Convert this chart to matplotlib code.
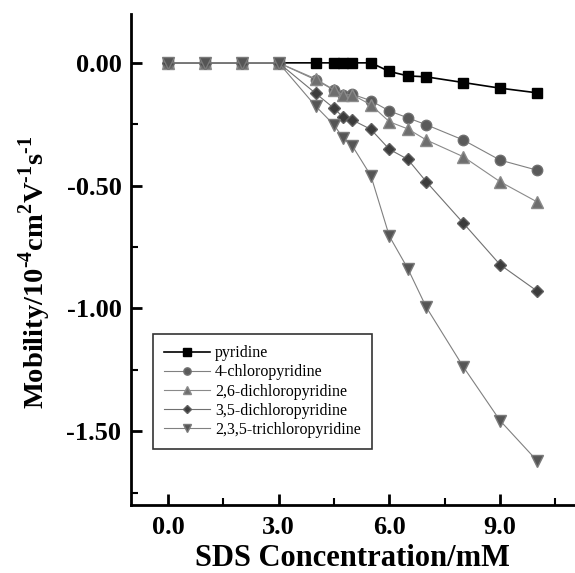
import matplotlib.pyplot as plt
from matplotlib.ticker import MultipleLocator, FormatStrFormatter

plt.rcParams['font.family'] = ['Liberation Serif', 'DejaVu Serif']
plt.rcParams['mathtext.fontset'] = 'custom'
plt.rcParams['mathtext.rm'] = 'Liberation Serif:bold'
plt.rcParams['mathtext.bf'] = 'Liberation Serif:bold'

# SDS concentration (mM)
sds = [0, 1, 2, 3, 4, 4.5, 4.75, 5, 5.5, 6, 6.5, 7, 8, 9, 10]

# mobility, 10^-4 cm^2 V^-1 s^-1
pyridine = [0, 0, 0, 0, 0, 0, 0, 0, 0, -0.035, -0.053, -0.057, -0.080, -0.103, -0.122]
chloro4 = [0, 0, 0, 0, -0.069, -0.111, -0.131, -0.128, -0.154, -0.196, -0.224, -0.252, -0.314, -0.396, -0.437]
dichloro26 = [0, 0, 0, 0, -0.065, -0.110, -0.130, -0.130, -0.171, -0.240, -0.269, -0.314, -0.382, -0.484, -0.566]
dichloro35 = [0, 0, 0, 0, -0.124, -0.185, -0.222, -0.233, -0.271, -0.352, -0.393, -0.484, -0.652, -0.822, -0.929]
trichloro235 = [0, 0, 0, 0, -0.176, -0.253, -0.307, -0.339, -0.460, -0.706, -0.838, -0.995, -1.237, -1.457, -1.620]

names = ['pyridine', '4-chloropyridine', '2,6-dichloropyridine',
         '3,5-dichloropyridine', '2,3,5-trichloropyridine']

fig = plt.figure(figsize=(5.75, 5.73), dpi=100)
ax = fig.add_axes([0.228, 0.119, 0.77, 0.857])

ax.plot(sds, pyridine, color='black', lw=1.2, marker='s', ms=7.5,
        mfc='black', mec='black', label=names[0])
ax.plot(sds, chloro4, color='#808080', lw=0.8, marker='o', ms=7.5,
        mfc='#5a5a5a', mec='#707070', label=names[1])
ax.plot(sds, dichloro26, color='#8a8a8a', lw=0.8, marker='^', ms=8,
        mfc='#6e6e6e', mec='#8a8a8a', label=names[2])
ax.plot(sds, dichloro35, color='#707070', lw=0.8, marker='D', ms=6.5,
        mfc='#3c3c3c', mec='#606060', label=names[3])
ax.plot(sds, trichloro235, color='#808080', lw=0.8, marker='v', ms=8,
        mfc='#555555', mec='#7a7a7a', label=names[4])

ax.set_xlim(-1.0, 11.0)
ax.set_ylim(-1.8, 0.2)
ax.xaxis.set_major_locator(MultipleLocator(3.0))
ax.xaxis.set_minor_locator(MultipleLocator(1.5))
ax.yaxis.set_major_locator(MultipleLocator(0.5))
ax.yaxis.set_minor_locator(MultipleLocator(0.25))
ax.xaxis.set_major_formatter(FormatStrFormatter('%.1f'))
ax.yaxis.set_major_formatter(FormatStrFormatter('%.2f'))

for s in ['top', 'right']:
    ax.spines[s].set_visible(False)
for s in ['left', 'bottom']:
    ax.spines[s].set_linewidth(2)

ax.tick_params(which='major', direction='in', length=8, width=2,
               labelsize=19)
ax.tick_params(axis='y', which='major', pad=7)
ax.tick_params(axis='x', which='major', pad=8)
ax.tick_params(which='minor', direction='in', length=5, width=1.5)
for lab in ax.get_xticklabels() + ax.get_yticklabels():
    lab.set_fontweight('bold')

ax.set_xlabel('SDS Concentration/mM', fontsize=22, fontweight='bold')
ax.set_ylabel(r'Mobility/10$^{\text{-}4}$cm$^{2}$V$^{\text{-}1}$s$^{\text{-}1}$',
              fontsize=20.5, fontweight='bold')
ax.xaxis.set_label_coords(0.499, -0.079, transform=ax.transAxes)
ax.xaxis.label.set_va('top')
ax.yaxis.set_label_coords(-0.176, 0.474)

leg = ax.legend(loc='lower left', bbox_to_anchor=(0.031, 0.097), fontsize=11.5,
                frameon=True, fancybox=False, edgecolor='black',
                handlelength=2.9, handletextpad=0.3, labelspacing=0.2,
                borderpad=0.7, markerscale=0.7)
leg.get_frame().set_linewidth(1.2)

fig.savefig('out.png', dpi=100)
